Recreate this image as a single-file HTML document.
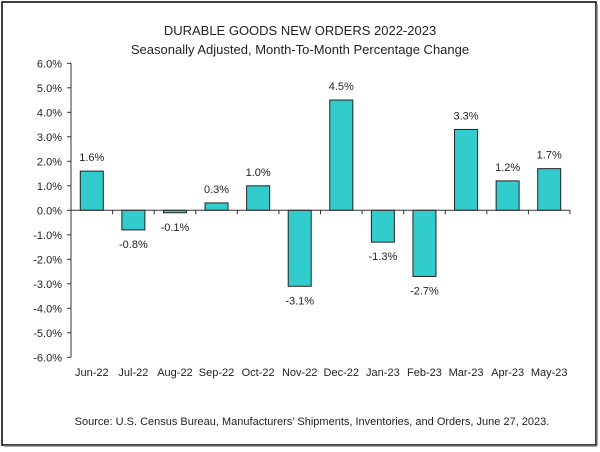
<!DOCTYPE html>
<html><head><meta charset="utf-8"><style>
body{margin:0;background:#fff;}
svg{display:block;font-family:"Liberation Sans",sans-serif;}
</style></head><body>
<svg width="600" height="452">
<rect x="2" y="2" width="594" height="443" fill="#fff" stroke="#000" stroke-width="1.5"/>
<line x1="4" y1="446" x2="597" y2="446" stroke="#888" stroke-width="1.5"/>
<line x1="597" y1="4" x2="597" y2="446" stroke="#888" stroke-width="1.5"/>
<text x="300" y="35" text-anchor="middle" font-size="13" fill="#222">DURABLE GOODS NEW ORDERS 2022-2023</text>
<text x="300" y="54" text-anchor="middle" font-size="13" fill="#222">Seasonally Adjusted,  Month-To-Month Percentage Change</text>
<g id="plot"></g>
<text x="312" y="425" text-anchor="middle" font-size="11" fill="#222">Source: U.S. Census Bureau, Manufacturers’ Shipments, Inventories, and Orders, June 27, 2023.</text>
</svg>
<script>
const categories=["Jun-22","Jul-22","Aug-22","Sep-22","Oct-22","Nov-22","Dec-22","Jan-23","Feb-23","Mar-23","Apr-23","May-23"];
const values=[1.6,-0.8,-0.1,0.3,1.0,-3.1,4.5,-1.3,-2.7,3.3,1.2,1.7];
const yTicks=[6,5,4,3,2,1,0,-1,-2,-3,-4,-5,-6];
const NS="http://www.w3.org/2000/svg";
const g=document.getElementById("plot");
const x0=71,x1=570,yTop=63.3,yBot=357.3,yMax=6,yMin=-6;
const band=(x1-x0)/categories.length;
function y(v){return yTop+(yMax-v)/(yMax-yMin)*(yBot-yTop);}
function xc(i){return x0+band*(i+0.5);}
function mk(t,a){const e=document.createElementNS(NS,t);for(const k in a)e.setAttribute(k,a[k]);g.appendChild(e);return e;}
let ax=mk("line",{x1:x0,y1:yTop,x2:x0,y2:yBot,stroke:"#333"});


yTicks.forEach(t=>{
  mk("line",{x1:x0-4,y1:y(t),x2:x0,y2:y(t),stroke:"#333"});
  const tx=mk("text",{x:x0-9,y:y(t)+4,"text-anchor":"end","font-size":"11",fill:"#222"});
  tx.textContent=t.toFixed(1)+"%";
  
  
});
categories.forEach((c,i)=>{
  const v=values[i];
  const bw=23;
  const r=mk("rect",{x:xc(i)-bw/2,y:Math.min(y(v),y(0)),width:bw,height:Math.abs(y(v)-y(0)),fill:"#33cccc",stroke:"#222","stroke-width":"1"});
  
  
  const lb=mk("text",{x:xc(i),y:v>=0?y(v)-10:y(v)+18,"text-anchor":"middle","font-size":"11",fill:"#222"});
  lb.textContent=v.toFixed(1)+"%";
  
  
  const cl=mk("text",{x:xc(i),y:376,"text-anchor":"middle","font-size":"11",fill:"#222"});
  cl.textContent=c;
  
  
  mk("line",{x1:x0+band*(i+1),y1:y(0),x2:x0+band*(i+1),y2:y(0)+4,stroke:"#333"});
});
let zl=mk("line",{x1:x0,y1:y(0),x2:x1,y2:y(0),stroke:"#333"});


</script>
</body></html>
